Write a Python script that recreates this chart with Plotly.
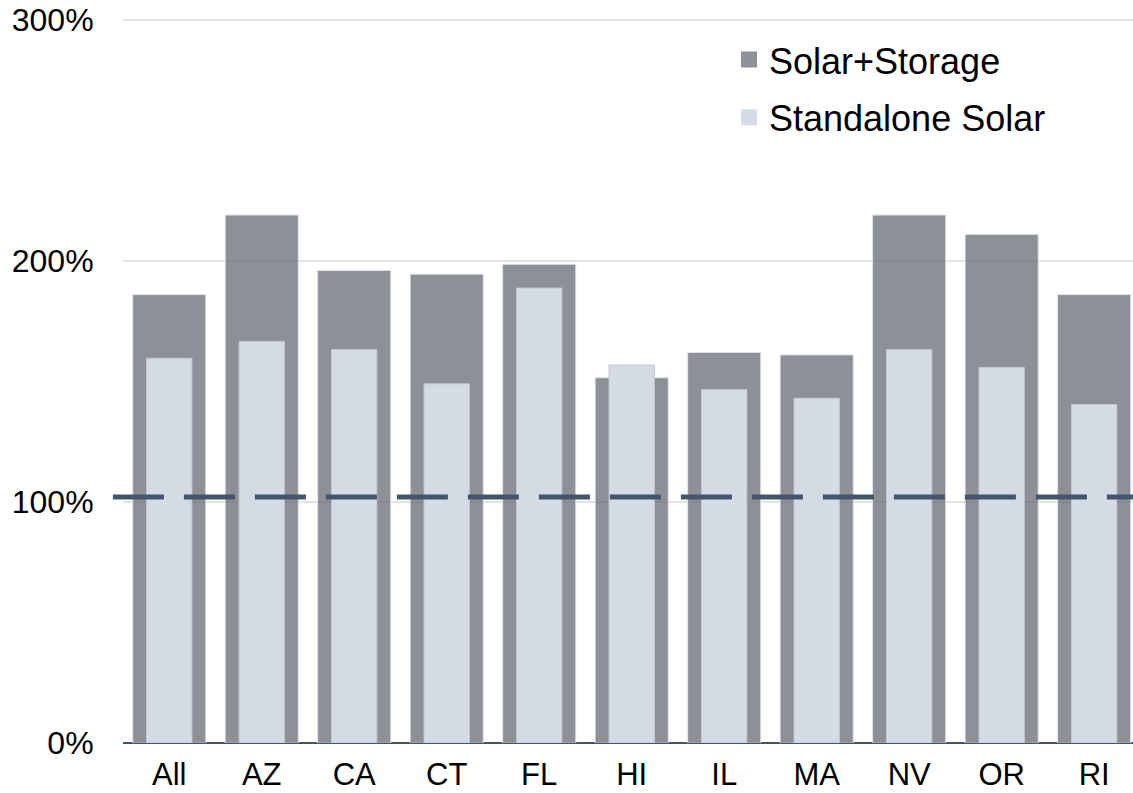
import plotly.graph_objects as go

# Data (percent)
states = ["All", "AZ", "CA", "CT", "FL", "HI", "IL", "MA", "NV", "OR", "RI"]
solar_storage = [186, 219, 196, 194.5, 198.6, 151.5, 162, 161, 219, 211, 186]
standalone = [159.6, 166.6, 163.2, 149, 188.7, 156.8, 146.6, 143, 163.2, 155.8, 140.4]
breakeven = 102
y_ticks = [0, 100, 200, 300]
y_labels = ["0%", "100%", "200%", "300%"]

dark = "rgba(104,107,118,0.75)"
light = "#D5DBE4"

fig = go.Figure()

# Solar+Storage: wide, semi-transparent dark bars
fig.add_trace(go.Bar(
    x=states, y=solar_storage, name="Solar+Storage", width=0.79,
    marker=dict(color=dark, line=dict(color="rgba(225,228,234,0.9)", width=1)),
    showlegend=False,
))
# Standalone Solar: narrow light bars on top
fig.add_trace(go.Bar(
    x=states, y=standalone, name="Standalone Solar", width=0.49,
    marker=dict(color=light, line=dict(color="#C3C8D1", width=1)),
    showlegend=False,
))

# legend entries with bigger square swatches
fig.add_trace(go.Scatter(
    x=[None], y=[None], mode="markers", name="Solar+Storage", legendgroup="a",
    marker=dict(symbol="square", size=20, color="#8F9199"),
))
fig.add_trace(go.Scatter(
    x=[None], y=[None], mode="markers", name="Standalone Solar", legendgroup="b",
    marker=dict(symbol="square", size=20, color=light),
))

# dashed 100% reference line
fig.add_shape(
    type="line", xref="paper", yref="y", x0=-0.01, x1=1, y0=breakeven, y1=breakeven,
    line=dict(color="#44546A", width=5, dash="51px,20px"), layer="above",
)

fig.update_layout(
    barmode="overlay",
    width=1133, height=793,
    margin=dict(l=123, r=0, t=15, b=50),
    plot_bgcolor="white", paper_bgcolor="white",
    font=dict(family="Liberation Sans, Arial, sans-serif", size=31, color="#000000"),
    legend=dict(
        x=0.6, y=0.98, xanchor="left", yanchor="top",
        font=dict(size=36), tracegroupgap=8, bgcolor="rgba(0,0,0,0)",
        itemwidth=30,
    ),
    xaxis=dict(
        range=[-0.5, 10.42], showgrid=False, showline=False, automargin=False,
        ticks="outside", ticklen=4, tickcolor="rgba(0,0,0,0)",
        tickfont=dict(size=31),
    ),
    yaxis=dict(
        range=[0, 302], tickvals=y_ticks, ticktext=y_labels, automargin=False,
        showgrid=True, gridcolor="#E3E3E3", gridwidth=2,
        zeroline=True, zerolinecolor="#44546A", zerolinewidth=2,
        ticks="outside", ticklen=22, tickcolor="rgba(0,0,0,0)",
        tickfont=dict(size=32),
    ),
)

# page body margin would push the fixed-size figure out of the window
fig.write_html(
    "out.html",
    config={"displayModeBar": False},
    post_script="document.body.style.margin='0';",
)
